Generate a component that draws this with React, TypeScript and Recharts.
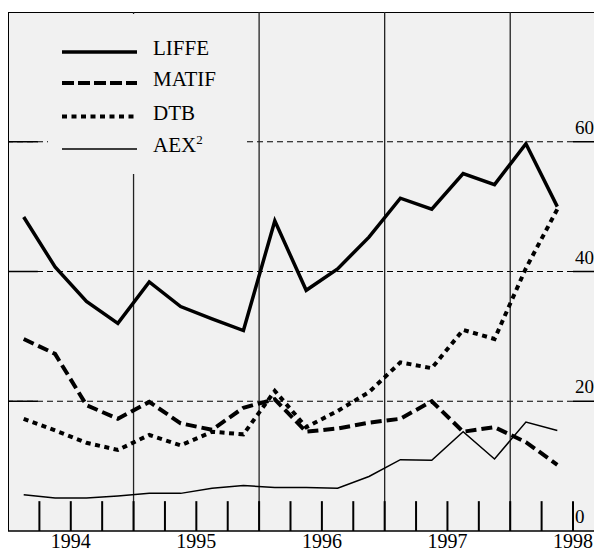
import { LineChart, Line, XAxis, YAxis, ReferenceLine, Legend } from 'recharts';

// quarter positions (index of each observation)
const periods = [0, 1, 2, 3, 4, 5, 6, 7, 8, 9, 10, 11, 12, 13, 14, 15, 16, 17];

const liffe = [48.4, 40.7, 35.4, 32.0, 38.4, 34.6, 32.7, 30.9, 47.8, 37.1, 40.4, 45.3, 51.3, 49.6, 55.1, 53.4, 59.7, 50.0];
const matif = [29.6, 27.3, 19.4, 17.3, 19.9, 16.6, 15.6, 19.0, 20.3, 15.3, 15.8, 16.7, 17.3, 20.0, 15.3, 16.0, 13.7, 10.2];
const dtb = [17.3, 15.5, 13.6, 12.5, 14.8, 13.2, 15.3, 14.9, 21.6, 16.0, 18.5, 21.4, 26.0, 25.1, 31.0, 29.6, 40.5, 49.6];
const aex = [5.6, 5.1, 5.1, 5.4, 5.8, 5.8, 6.6, 7.0, 6.7, 6.7, 6.6, 8.4, 11.0, 10.9, 15.3, 11.1, 16.8, 15.5];

const quarterTicks = [0.5, 1.5, 2.5, 3.5, 4.5, 5.5, 6.5, 7.5, 8.5, 9.5, 10.5, 11.5, 12.5, 13.5, 14.5, 15.5, 16.5, 17.5];
const yearTicks = [1.5, 5.5, 9.5, 13.5, 17.5];
const yearLabels = ['1994', '1995', '1996', '1997', '1998'];
const yearLines = [3.5, 7.5, 11.5, 15.5];
const valueTicks = [0, 20, 40, 60];
const gridValues = [20, 40, 60];

const data = periods.map((p, i) => ({
  p,
  liffe: liffe[i],
  matif: matif[i],
  dtb: dtb[i],
  aex: aex[i],
}));

const FONT = '"Liberation Serif", serif';
const BG = '#f1f1f1';
const TICK_LEN = 4.6; // quarter tick height, in value units
const LEFT_STUB = 0.45; // solid piece of each gridline at the left edge

const RightTick = (props: any) => {
  const { x, y, payload } = props;
  return (
    <text x={x - 19} y={y - 8} fontFamily={FONT} fontSize={19} fill="#000" textAnchor="start">
      {payload.value}
    </text>
  );
};

const legendRows = [
  { label: 'LIFFE', width: 3.5, dash: undefined as string | undefined, y: 38 },
  { label: 'MATIF', width: 4, dash: '12 4', y: 69 },
  { label: 'DTB', width: 4, dash: '5 4.5', y: 102.5 },
  { label: 'AEX', width: 1.5, dash: undefined, y: 135 },
];

const renderLegend = () => (
  <svg width={195} height={160}>
    {legendRows.map((r) => (
      <g key={r.label}>
        <line x1={14} x2={89} y1={r.y} y2={r.y} stroke="#000" strokeWidth={r.width} strokeDasharray={r.dash} />
        <text x={105} y={r.y + 3} fontFamily={FONT} fontSize={21} fill="#000">
          {r.label}
          {r.label === 'AEX' && (
            <tspan dy={-8} fontSize={13}>
              2
            </tspan>
          )}
        </text>
      </g>
    ))}
  </svg>
);

export default function App() {
  return (
    <div style={{ position: 'absolute', left: 0, top: 0, width: 594, height: 554, overflow: 'hidden', background: '#fff' }}>
      <div
        style={{
          position: 'absolute',
          left: 8,
          top: 12,
          width: 620,
          height: 519,
          background: BG,
          borderTop: '1.5px solid #000',
          borderLeft: '1.5px solid #000',
          boxSizing: 'border-box',
        }}
      />
      <div style={{ position: 'absolute', left: 0, top: 0 }}>
        <LineChart width={640} height={554} data={data} margin={{ top: 12, right: 0, bottom: 0, left: 8 }}>
          <XAxis
            xAxisId="main"
            dataKey="p"
            type="number"
            domain={[-0.5, 17.5]}
            ticks={yearTicks}
            height={23}
            tickLine={false}
            tickSize={0}
            tickMargin={3}
            interval={0}
            tickFormatter={(v: number) => yearLabels[yearTicks.indexOf(v)]}
            tick={{ fontFamily: FONT, fontSize: 20, fill: '#000' }}
            axisLine={{ stroke: '#000', strokeWidth: 1.5 }}
          />
          <YAxis
            yAxisId="r"
            orientation="right"
            domain={[0, 80]}
            ticks={valueTicks}
            width={67}
            tickSize={21}
            tickMargin={0}
            interval={0}
            tick={<RightTick />}
            axisLine={false}
            tickLine={{ stroke: '#000', strokeWidth: 1.5 }}
          />
          {gridValues.map((v) => (
            <ReferenceLine key={'g' + v} xAxisId="main" yAxisId="r" y={v} stroke="#000" strokeWidth={1} strokeDasharray="6 4" />
          ))}
          {gridValues.map((v) => (
            <ReferenceLine
              key={'s' + v}
              xAxisId="main"
              yAxisId="r"
              segment={[
                { x: -0.5, y: v },
                { x: LEFT_STUB, y: v },
              ]}
              stroke="#000"
              strokeWidth={1.5}
            />
          ))}
          {yearLines.map((v) => (
            <ReferenceLine key={'y' + v} xAxisId="main" yAxisId="r" x={v} stroke="#222" strokeWidth={1.3} />
          ))}
          {quarterTicks.map((v) => (
            <ReferenceLine
              key={'q' + v}
              xAxisId="main"
              yAxisId="r"
              segment={[
                { x: v, y: 0 },
                { x: v, y: TICK_LEN },
              ]}
              stroke="#000"
              strokeWidth={2}
            />
          ))}
          <Legend
            layout="horizontal"
            verticalAlign="middle"
            align="center"
            content={renderLegend}
            wrapperStyle={{ left: 48, top: 14, width: 195, height: 160, background: BG }}
          />
          <Line xAxisId="main" yAxisId="r" dataKey="aex" stroke="#000" strokeWidth={1.5} dot={false} isAnimationActive={false} />
          <Line xAxisId="main" yAxisId="r" dataKey="dtb" stroke="#000" strokeWidth={4} strokeDasharray="5 4.5" dot={false} isAnimationActive={false} />
          <Line xAxisId="main" yAxisId="r" dataKey="matif" stroke="#000" strokeWidth={4} strokeDasharray="11 5" dot={false} isAnimationActive={false} />
          <Line xAxisId="main" yAxisId="r" dataKey="liffe" stroke="#000" strokeWidth={3.5} dot={false} isAnimationActive={false} />
        </LineChart>
      </div>
    </div>
  );
}
